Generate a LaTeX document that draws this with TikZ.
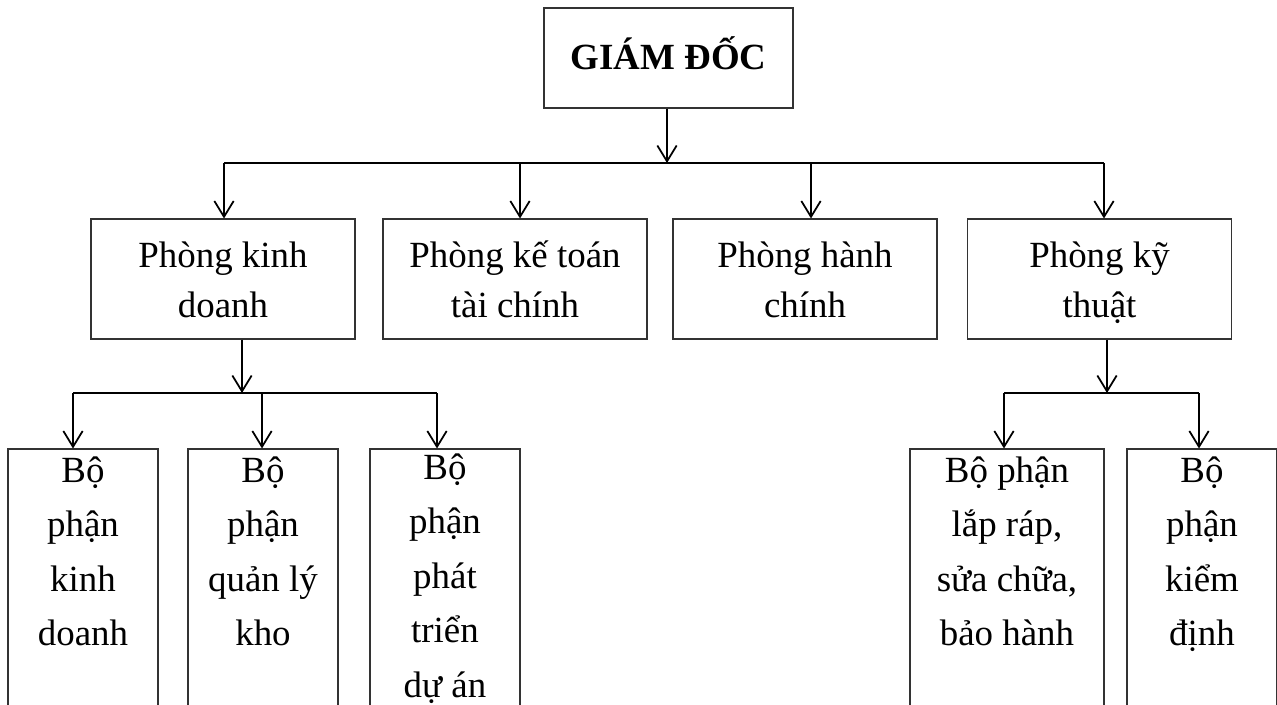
\documentclass[tikz,border=0pt]{standalone}
\usepackage{fontspec}
\setmainfont{Liberation Serif}
\usetikzlibrary{arrows.meta, positioning}
\tikzset{>={Straight Barb[length=9pt,width=11pt]}}
\tikzset{
	hop/.style={draw=black!80, line width=0.6pt, align=center, inner sep=2pt},
	phong/.style={hop, minimum width=5.28cm, minimum height=2.4cm, text height=44pt, text depth=0pt, font=\fontsize{21}{28.5}\selectfont},
	bophan/.style={hop, minimum width=3cm, minimum height=5.18cm, font=\fontsize{21}{31}\selectfont},
	noi/.style={line width=1pt}
}

\begin{document}
\begin{tikzpicture}

	\useasboundingbox (0,0) rectangle (25.54,-14.08);

	\node [hop, minimum width=4.98cm, minimum height=2cm, text height=13pt, text depth=0pt, font=\fontsize{21}{28}\selectfont\bfseries] (gd) at (13.37,-1.16) {GIÁM ĐỐC};

	\node [phong] (kd) at (4.46,-5.58) {Phòng kinh\\doanh};
	\node [phong] (kt) at (10.3,-5.58) {Phòng kế toán\\tài chính};
	\node [phong] (hc) at (16.1,-5.58) {Phòng hành\\chính};
	\node [phong] (ky) at (21.99,-5.58) {Phòng kỹ\\thuật};

	\node [bophan] (bkd) at (1.66,-11.57) {Bộ\\phận\\kinh\\doanh\\~};
	\node [bophan] (bql) at (5.26,-11.57) {Bộ\\phận\\quản lý\\kho\\~};
	\node [bophan] (bpt) at (8.9,-11.57) {Bộ\\phận\\phát\\triển\\dự án};
	\node [bophan, minimum width=3.88cm] (blr) at (20.14,-11.57) {Bộ phận\\lắp ráp,\\sửa chữa,\\bảo hành\\~};
	\node [bophan] (bkdi) at (24.04,-11.57) {Bộ\\phận\\kiểm\\định\\~};

	%giam doc -> phong
	\coordinate (t1) at (4.48,-3.26);
	\coordinate (t2) at (10.4,-3.26);
	\coordinate (t3) at (16.22,-3.26);
	\coordinate (t4) at (22.08,-3.26);
	\draw [noi,->] (gd.south -| 13.34,0) -- (13.34,-3.26);
	\draw [noi] (t1) -- (t4);
	\foreach \c/\n in {t1/kd, t2/kt, t3/hc, t4/ky}
		\draw [noi,->] (\c) -- (\c |- \n.north);

	%phong kinh doanh -> bo phan
	\coordinate (dk) at (4.84,-7.86);
	\coordinate (d1) at (1.46,-7.86);
	\coordinate (d2) at (5.24,-7.86);
	\coordinate (d3) at (8.74,-7.86);
	\draw [noi,->] (dk |- kd.south) -- (dk);
	\draw [noi] (d1) -- (d3);
	\foreach \c/\n in {d1/bkd, d2/bql, d3/bpt}
		\draw [noi,->] (\c) -- (\c |- \n.north);

	%phong ky thuat -> bo phan
	\coordinate (dy) at (22.14,-7.86);
	\coordinate (k1) at (20.08,-7.86);
	\coordinate (k2) at (23.98,-7.86);
	\draw [noi,->] (dy |- ky.south) -- (dy);
	\draw [noi] (k1) -- (k2);
	\foreach \c/\n in {k1/blr, k2/bkdi}
		\draw [noi,->] (\c) -- (\c |- \n.north);

\end{tikzpicture}
\end{document}
